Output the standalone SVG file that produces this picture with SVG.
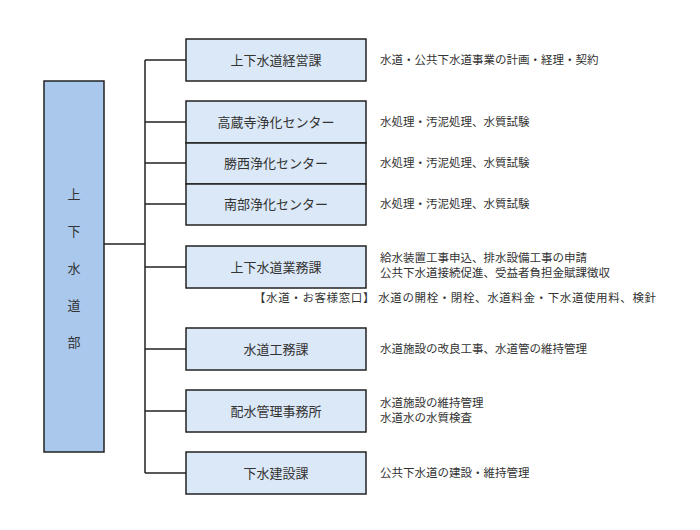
<svg xmlns="http://www.w3.org/2000/svg" width="700" height="530" viewBox="0 0 700 530">
<style>
.b{fill:#dbe8f7;stroke:#222;stroke-width:1.5}
.t{font-family:"Noto Sans CJK JP",sans-serif;font-size:13px;fill:#333}
.c{text-anchor:middle}
.d{font-family:"Noto Sans CJK JP",sans-serif;font-size:11.5px;fill:#333}
.l{stroke:#222;stroke-width:1.5;fill:none}
</style>
<rect width="700" height="530" fill="#fff"/>
<g id="connectors">
<path class="l" d="M104 244H145M145 60V473M145 60H186M145 122H186M145 163H186M145 204H186M145 267H186M145 349H186M145 411H186M145 473H186"/>
</g>
<g id="root"><rect x="44" y="81" width="60" height="371" fill="#a9c8ec" stroke="#222" stroke-width="1.5"/>
<text class="t c" x="74"><tspan x="74" y="199">上</tspan><tspan x="74" y="236">下</tspan><tspan x="74" y="273">水</tspan><tspan x="74" y="310">道</tspan><tspan x="74" y="347">部</tspan></text></g>
<g id="n1"><rect class="b" x="186" y="39" width="180" height="42"/><text class="t c" x="276" y="65">上下水道経営課</text><text class="d" x="380" y="64">水道・公共下水道事業の計画・経理・契約</text></g>
<g id="n2"><rect class="b" x="186" y="101" width="180" height="42"/><text class="t c" x="276" y="127">高蔵寺浄化センター</text><text class="d" x="380" y="126">水処理・汚泥処理、水質試験</text></g>
<g id="n3"><rect class="b" x="186" y="143" width="180" height="41"/><text class="t c" x="276" y="168">勝西浄化センター</text><text class="d" x="380" y="167">水処理・汚泥処理、水質試験</text></g>
<g id="n4"><rect class="b" x="186" y="184" width="180" height="41"/><text class="t c" x="276" y="209">南部浄化センター</text><text class="d" x="380" y="208">水処理・汚泥処理、水質試験</text></g>
<g id="n5"><rect class="b" x="186" y="246" width="180" height="42"/><text class="t c" x="276" y="272">上下水道業務課</text><text class="d" x="380" y="262">給水装置工事申込、排水設備工事の申請</text><text class="d" x="380" y="277">公共下水道接続促進、受益者負担金賦課徴収</text><text class="d" x="254" y="302" textLength="402">【水道・お客様窓口】 水道の開栓・閉栓、水道料金・下水道使用料、検針</text></g>
<g id="n6"><rect class="b" x="186" y="328" width="180" height="42"/><text class="t c" x="276" y="354">水道工務課</text><text class="d" x="380" y="353">水道施設の改良工事、水道管の維持管理</text></g>
<g id="n7"><rect class="b" x="186" y="390" width="180" height="42"/><text class="t c" x="276" y="416">配水管理事務所</text><text class="d" x="380" y="407">水道施設の維持管理</text><text class="d" x="380" y="422">水道水の水質検査</text></g>
<g id="n8"><rect class="b" x="186" y="452" width="180" height="42"/><text class="t c" x="276" y="478">下水建設課</text><text class="d" x="380" y="477">公共下水道の建設・維持管理</text></g>
</svg>
